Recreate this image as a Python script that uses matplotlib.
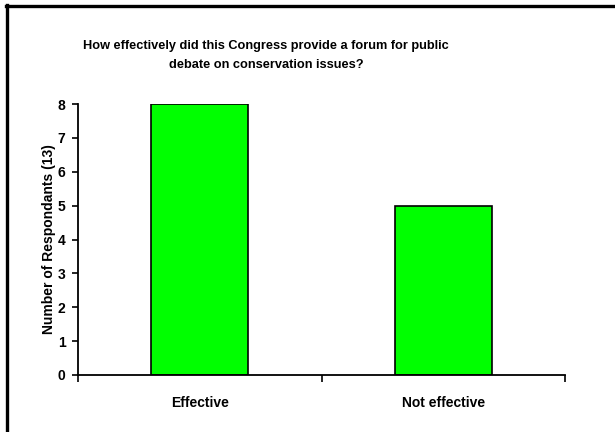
import matplotlib
matplotlib.use("Agg")
import matplotlib.pyplot as plt
from matplotlib.lines import Line2D

categories = ["Effective", "Not effective"]
respondents = [8, 5]
y_ticks = [0, 1, 2, 3, 4, 5, 6, 7, 8]
title_lines = ["How effectively did this Congress provide a forum for public",
               "debate on conservation issues?"]
y_label = "Number of Respondants (13)"

plt.rcParams["font.family"] = ["Liberation Sans", "DejaVu Sans"]
plt.rcParams["font.weight"] = "bold"

fig = plt.figure(figsize=(6.15, 4.32), dpi=100)
W, H = 615, 432

# frame lines along the top and left edges
fig.add_artist(Line2D([5.5 / W, 1.0], [1 - 6 / H, 1 - 6 / H], color="black",
                      linewidth=2.4, transform=fig.transFigure))
fig.add_artist(Line2D([6.5 / W, 6.5 / W], [1 - 5 / H, 0.0], color="black",
                      linewidth=2.4, transform=fig.transFigure))

ax = fig.add_axes([78 / W, 1 - 375 / H, (565 - 78) / W, (375 - 104) / H])
x = list(range(len(categories)))
ax.bar(x, respondents, width=0.4, color="#00ff00", edgecolor="black", linewidth=1.2)

ax.set_xlim(-0.5, len(categories) - 0.5)
ax.set_ylim(0, 8)
ax.set_yticks(y_ticks)
ax.set_yticklabels([str(v) for v in y_ticks], fontsize=10, fontweight="bold")
ax.set_xticks(x)
ax.set_xticklabels(categories, fontsize=10, fontweight="bold")
ax.tick_params(axis="x", length=0, pad=15)
ax.set_xticks([-0.5, 0.5, 1.5], minor=True)
ax.tick_params(axis="x", which="minor", length=5, width=1.2, direction="out")
ax.tick_params(axis="y", length=4, width=1.2, direction="out", pad=5)

for side in ("top", "right"):
    ax.spines[side].set_visible(False)
for side in ("left", "bottom"):
    ax.spines[side].set_linewidth(1.3)

ax.set_ylabel(y_label, fontsize=10, fontweight="bold", labelpad=1.5)
for line, ypix in zip(title_lines, (46, 65)):
    fig.text(266 / W, 1 - ypix / H, line, ha="center", va="center", fontsize=9.2,
             fontweight="bold")

fig.savefig("out.png", dpi=100, facecolor="white")
